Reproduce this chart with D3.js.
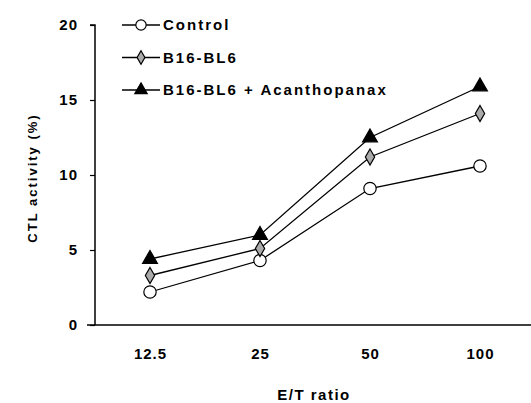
<!DOCTYPE html>
<html lang="en">
<head>
<meta charset="utf-8">
<title>CTL activity by E/T ratio</title>
<script src="https://cdn.jsdelivr.net/npm/d3@7"></script>
<style>
  body { margin: 0; background: #fff; }
  text { font-family: "Liberation Sans", Arial, sans-serif; font-weight: bold; fill: #000; }
</style>
</head>
<body>
<svg width="531" height="403"></svg>
<script>
// data
var ratios = ["12.5", "25", "50", "100"];
var yTicks = [0, 5, 10, 15, 20];
var seriesNames = ["Control", "B16-BL6", "B16-BL6 + Acanthopanax"];
var control = [2.2, 4.3, 9.1, 10.6];
var b16 = [3.3, 5.1, 11.2, 14.1];
var acantho = [4.4, 6.0, 12.5, 15.9];

var series = [
  { name: seriesNames[0], values: control, sym: d3.symbolCircle, size: 120, fill: "#fff" },
  { name: seriesNames[1], values: b16, sym: d3.symbolDiamond, size: 75, fill: "#aaa" },
  { name: seriesNames[2], values: acantho, sym: d3.symbolTriangle, size: 95, fill: "#000" }
];

var svg = d3.select("svg");
var mLeft = 95, mRight = 535, mTop = 25, mBottom = 325;

var x = d3.scalePoint().domain(ratios).range([mLeft, mRight]).padding(0.5);
var y = d3.scaleLinear().domain([0, 20]).range([mBottom, mTop]);

// y axis
svg.append("g")
  .attr("transform", "translate(" + mLeft + ",0)")
  .call(d3.axisLeft(y).tickValues(yTicks).tickSize(5).tickPadding(12))
  .call(function(g) {
    g.select(".domain").attr("stroke", "#000").attr("stroke-width", 1.5).attr("d", "M-5," + mTop + "H0V" + mBottom);
    g.selectAll(".tick line").attr("stroke-width", 1.2);
    g.selectAll("text").style("font-size", "15px").style("letter-spacing", "1px");
  });

// x axis
svg.append("g")
  .attr("transform", "translate(0," + mBottom + ")")
  .call(d3.axisBottom(x).tickSize(0).tickPadding(23))
  .call(function(g) {
    g.select(".domain").attr("stroke", "#000").attr("stroke-width", 1.5).attr("d", "M" + (mLeft - 8) + ",0H531");
    g.selectAll("text").style("font-size", "15px").style("letter-spacing", "1px");
  });

var line = d3.line()
  .x(function(d, i) { return x(ratios[i]); })
  .y(function(d) { return y(d); });

series.forEach(function(s) {
  svg.append("path")
    .attr("d", line(s.values))
    .attr("fill", "none")
    .attr("stroke", "#000")
    .attr("stroke-width", 1.3);
  svg.selectAll(null)
    .data(s.values)
    .enter().append("path")
    .attr("d", d3.symbol().type(s.sym).size(s.size))
    .attr("transform", function(d, i) { return "translate(" + x(ratios[i]) + "," + y(d) + ")"; })
    .attr("fill", s.fill)
    .attr("stroke", "#000")
    .attr("stroke-width", 1.2);
});

// legend
var legend = svg.append("g").attr("transform", "translate(122,25)");
series.forEach(function(s, i) {
  var row = legend.append("g").attr("transform", "translate(0," + (i * 32.5) + ")");
  row.append("line").attr("x1", 0).attr("x2", 38).attr("stroke", "#000").attr("stroke-width", 1.3);
  row.append("path")
    .attr("d", d3.symbol().type(s.sym).size(s.size * 0.7))
    .attr("transform", "translate(19,0)")
    .attr("fill", s.fill).attr("stroke", "#000").attr("stroke-width", 1.2);
  row.append("text").attr("x", 41).attr("dy", "0.35em")
    .style("font-size", "15px").style("letter-spacing", "2px").text(s.name);
});

// axis titles
svg.append("text")
  .attr("transform", "translate(37," + ((mTop + mBottom) / 2 + 3) + ") rotate(-90)")
  .attr("text-anchor", "middle")
  .style("font-size", "13px").style("letter-spacing", "2px")
  .text("CTL activity (%)");

svg.append("text")
  .attr("x", 314)
  .attr("y", 400)
  .attr("text-anchor", "middle")
  .style("font-size", "15px").style("letter-spacing", "1.5px")
  .text("E/T ratio");
</script>
</body>
</html>
